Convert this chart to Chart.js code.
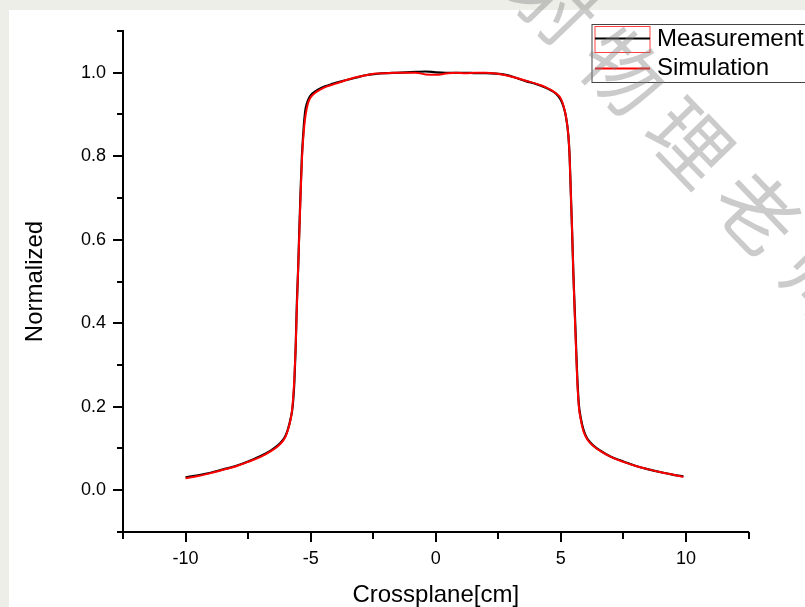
<!DOCTYPE html>
<html>
<head>
<meta charset="utf-8">
<script src="https://cdn.jsdelivr.net/npm/chart.js@4"></script>
<style>
  html, body { margin: 0; padding: 0; background: #eeeee8; }
  canvas { display: block; }
</style>
</head>
<body>
<canvas id="c" width="805" height="607"></canvas>
<script>
// ---- data ----
const crossplane = [-10, -9.5, -9, -8.5, -8, -7.5, -7, -6.6, -6.3, -6.1, -6.0, -5.9, -5.8, -5.72, -5.65, -5.6, -5.55, -5.5, -5.45, -5.4, -5.35, -5.3, -5.25, -5.2, -5.1, -5.0, -4.8, -4.6, -4.4, -4.2, -4.0, -3.6, -3.2, -2.8, -2.4, -2.0, -1.6, -1.2, -0.8, -0.4, 0, 0.4, 0.8, 1.2, 1.6, 2.0, 2.4, 2.8, 3.2, 3.6, 4.0, 4.2, 4.4, 4.6, 4.8, 5.0, 5.1, 5.2, 5.3, 5.35, 5.4, 5.45, 5.5, 5.55, 5.6, 5.65, 5.72, 5.8, 5.9, 6.0, 6.1, 6.3, 6.6, 7.0, 7.5, 8.0, 8.5, 9.0, 9.5, 9.9];

const measurement = [0.031, 0.036, 0.042, 0.050, 0.058, 0.069, 0.082, 0.095, 0.108, 0.121, 0.131, 0.148, 0.172, 0.20, 0.26, 0.34, 0.45, 0.53, 0.63, 0.72, 0.80, 0.85, 0.89, 0.915, 0.935, 0.946, 0.956, 0.963, 0.968, 0.972, 0.976, 0.982, 0.988, 0.994, 0.997, 0.999, 1.000, 1.001, 1.002, 1.003, 1.001, 1.000, 1.000, 1.000, 0.999, 0.999, 0.998, 0.995, 0.988, 0.980, 0.973, 0.969, 0.964, 0.958, 0.950, 0.935, 0.920, 0.896, 0.85, 0.80, 0.71, 0.62, 0.52, 0.44, 0.36, 0.28, 0.205, 0.172, 0.146, 0.130, 0.120, 0.107, 0.094, 0.080, 0.069, 0.058, 0.050, 0.043, 0.037, 0.033];

const simulation = [0.029, 0.034, 0.041, 0.049, 0.057, 0.068, 0.080, 0.093, 0.106, 0.119, 0.129, 0.146, 0.170, 0.205, 0.27, 0.34, 0.44, 0.53, 0.62, 0.71, 0.79, 0.84, 0.875, 0.90, 0.928, 0.941, 0.953, 0.960, 0.966, 0.970, 0.974, 0.982, 0.989, 0.994, 0.998, 0.999, 1.000, 1.000, 1.000, 0.996, 0.995, 0.998, 1.000, 0.999, 1.000, 1.000, 0.998, 0.994, 0.988, 0.981, 0.974, 0.970, 0.965, 0.959, 0.951, 0.938, 0.922, 0.896, 0.85, 0.80, 0.71, 0.62, 0.52, 0.43, 0.35, 0.27, 0.20, 0.168, 0.142, 0.128, 0.118, 0.106, 0.093, 0.080, 0.068, 0.058, 0.050, 0.043, 0.037, 0.032];

const seriesNames = ['Measurement', 'Simulation'];
const xTitle = 'Crossplane[cm]';
const yTitle = 'Normalized';
const watermarkChars = ['放', '射', '物', '理', '老', '师'];

// ---- rendering ----
const FONT = "'Liberation Sans', Arial, sans-serif";

const bgPlugin = {
  id: 'bg',
  beforeDraw(chart) {
    const ctx = chart.ctx;
    ctx.save();
    ctx.fillStyle = '#eeeee8';
    ctx.fillRect(0, 0, chart.width, chart.height);
    ctx.fillStyle = '#ffffff';
    ctx.fillRect(9, 10, chart.width - 9, chart.height - 10);
    ctx.restore();
  }
};

const tickPlugin = {
  id: 'ticks',
  afterDraw(chart) {
    const ctx = chart.ctx;
    const xs = chart.scales.x, ys = chart.scales.y;
    ctx.save();
    ctx.strokeStyle = '#000';
    ctx.lineWidth = 2;
    xs.ticks.forEach(t => {
      const px = Math.round(xs.getPixelForValue(t.value));
      const major = Math.abs(t.value % 5) < 1e-6;
      ctx.beginPath();
      ctx.moveTo(px, ys.bottom);
      ctx.lineTo(px, ys.bottom + (major ? 10 : 7));
      ctx.stroke();
    });
    ys.ticks.forEach(t => {
      const py = Math.round(ys.getPixelForValue(t.value));
      const major = Math.round(t.value * 10) % 2 === 0;
      ctx.beginPath();
      ctx.moveTo(xs.left, py);
      ctx.lineTo(xs.left - (major ? 10 : 6), py);
      ctx.stroke();
    });
    ctx.restore();
  }
};

const legendPlugin = {
  id: 'customLegend',
  afterDraw(chart) {
    const ctx = chart.ctx;
    const a = chart.chartArea;
    const bx = a.right - 156.5, by = 24.5;
    ctx.save();
    ctx.fillStyle = '#ffffff';
    ctx.fillRect(bx, by, 300, 58);
    ctx.strokeStyle = '#444';
    ctx.lineWidth = 1;
    ctx.strokeRect(bx, by, 300, 58);
    const ds = chart.data.datasets;
    // Measurement symbol: red-outlined box with black line
    ctx.strokeStyle = '#ff4040';
    ctx.lineWidth = 1;
    ctx.strokeRect(bx + 3, by + 2, 55, 26);
    ctx.strokeStyle = ds[0].borderColor;
    ctx.lineWidth = 2;
    ctx.beginPath();
    ctx.moveTo(bx + 3, by + 14);
    ctx.lineTo(bx + 58, by + 14);
    ctx.stroke();
    // Simulation symbol
    ctx.strokeStyle = ds[1].borderColor;
    ctx.beginPath();
    ctx.moveTo(bx + 3, by + 44);
    ctx.lineTo(bx + 58, by + 44);
    ctx.stroke();
    ctx.fillStyle = '#000';
    ctx.font = '24px ' + FONT;
    ctx.textBaseline = 'middle';
    ctx.textAlign = 'left';
    ctx.fillText(ds[0].label, bx + 65, by + 15);
    ctx.fillText(ds[1].label, bx + 65, by + 44);
    ctx.restore();
  }
};

const watermarkPlugin = {
  id: 'watermark',
  afterDraw(chart) {
    const ctx = chart.ctx;
    ctx.save();
    ctx.fillStyle = 'rgba(130,130,130,0.42)';
    ctx.font = "80px 'Noto Sans CJK SC'";
    ctx.textAlign = 'center';
    ctx.textBaseline = 'middle';
    watermarkChars.forEach((ch, i) => {
      const k = i - 1;
      const cx = 556 + 67 * k, cy = 2 + 70 * k;
      ctx.save();
      ctx.translate(cx, cy);
      ctx.rotate(46 * Math.PI / 180);
      ctx.fillText(ch, 0, 0);
      ctx.restore();
    });
    ctx.restore();
  }
};

const mk = ys => crossplane.map((x, i) => ({ x: x, y: ys[i] }));

new Chart(document.getElementById('c'), {
  type: 'scatter',
  data: {
    datasets: [
      { label: seriesNames[0], data: mk(measurement), showLine: true, borderColor: '#000000', borderWidth: 2.2, pointRadius: 0, cubicInterpolationMode: 'monotone', order: 2 },
      { label: seriesNames[1], data: mk(simulation), showLine: true, borderColor: '#ff0000', borderWidth: 2, pointRadius: 0, cubicInterpolationMode: 'monotone', order: 1 }
    ]
  },
  options: {
    responsive: false,
    animation: false,
    devicePixelRatio: 1,
    layout: { padding: { top: 31, right: 56.5, bottom: 0, left: 0 } },
    plugins: { legend: { display: false }, tooltip: { enabled: false } },
    scales: {
      x: {
        type: 'linear',
        min: -12.5, max: 12.5,
        ticks: {
          stepSize: 2.5,
          autoSkip: false,
          maxRotation: 0,
          padding: 6,
          color: '#000',
          font: { family: FONT, size: 18 },
          callback: v => (Math.abs(v % 5) < 1e-6 && Math.abs(v) < 12) ? String(Math.round(v)) : ''
        },
        grid: { display: true, drawOnChartArea: false, drawTicks: true, tickLength: 10, tickColor: 'rgba(0,0,0,0)' },
        border: { display: true, color: '#000', width: 2 },
        title: { display: true, text: xTitle, color: '#000', font: { family: FONT, size: 24, lineHeight: 1 }, padding: 0 },
        afterFit: s => { s.height = 75; }
      },
      y: {
        type: 'linear',
        min: -0.1, max: 1.1,
        ticks: {
          stepSize: 0.1,
          autoSkip: false,
          padding: 7,
          color: '#000',
          font: { family: FONT, size: 18 },
          callback: v => { const n = Math.round(v * 10); return (n % 2 === 0 && n >= 0 && n <= 10) ? (n / 10).toFixed(1) : ''; }
        },
        grid: { display: true, drawOnChartArea: false, drawTicks: true, tickLength: 10, tickColor: 'rgba(0,0,0,0)' },
        border: { display: true, color: '#000', width: 2 },
        title: { display: true, text: yTitle, color: '#000', font: { family: FONT, size: 24, lineHeight: 1.2 }, padding: { top: 21, bottom: 0 } },
        afterFit: s => { s.width = 123; }
      }
    }
  },
  plugins: [bgPlugin, tickPlugin, legendPlugin, watermarkPlugin]
});
</script>
</body>
</html>
